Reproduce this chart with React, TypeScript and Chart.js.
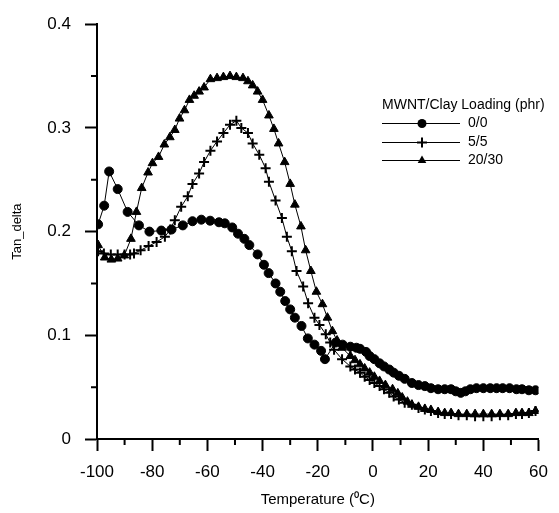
import React, { useEffect, useRef } from "react";
import { Chart, registerables } from "chart.js";

Chart.register(...registerables);

const seriesNames = ["0/0", "5/5", "20/30"];
const legendTitle = "MWNT/Clay Loading (phr)";
const xTitle = "Temperature (\u2070C)";
const yTitle = "Tan_delta";
const xTicks = [-100, -80, -60, -40, -20, 0, 20, 40, 60];
const yTicks = [0, 0.1, 0.2, 0.3, 0.4];
const xMinor = [-90, -70, -50, -30, -10, 10, 30, 50];
const yMinor = [0.05, 0.15, 0.25, 0.35];

const temp00 = [-99.6, -97.4, -95.6, -92.5, -88.9, -84.8, -81.0, -76.7, -73.0, -68.9, -65.4, -62.2, -59.0, -55.8, -53.7, -51.0, -48.9, -46.6, -44.8, -41.8, -39.5, -37.8, -35.3, -33.6, -31.8, -30.0, -28.3, -25.9, -23.6, -21.2, -18.8, -17.4, -13.5, -11.0, -8.2, -6.0, -4.7, -2.5, -1.2, 0.5, 2.4, 4.0, 5.9, 7.5, 9.4, 11.5, 14.1, 16.5, 18.8, 21.0, 23.6, 26.0, 28.3, 30.0, 31.8, 33.5, 35.3, 37.5, 40.0, 42.5, 44.8, 47.0, 49.5, 52.0, 54.0, 56.5, 58.9];
const tan00 = [0.207, 0.225, 0.258, 0.241, 0.219, 0.206, 0.2, 0.201, 0.202, 0.206, 0.21, 0.2115, 0.2105, 0.209, 0.208, 0.204, 0.198, 0.193, 0.187, 0.178, 0.168, 0.16, 0.15, 0.142, 0.133, 0.125, 0.117, 0.109, 0.097, 0.091, 0.085, 0.077, 0.093, 0.091, 0.089, 0.088, 0.087, 0.084, 0.08, 0.077, 0.073, 0.07, 0.067, 0.064, 0.061, 0.058, 0.054, 0.052, 0.051, 0.049, 0.048, 0.048, 0.048, 0.046, 0.0445, 0.046, 0.048, 0.049, 0.049, 0.049, 0.049, 0.049, 0.049, 0.048, 0.048, 0.047, 0.047];

const temp55 = [-99.6, -97.5, -95.0, -92.5, -90.0, -88.0, -86.6, -84.2, -81.3, -78.4, -75.4, -73.5, -71.8, -69.5, -67.1, -65.4, -63.0, -61.2, -58.9, -56.5, -54.2, -51.8, -49.5, -47.7, -45.3, -43.6, -41.2, -38.9, -37.7, -35.3, -33.0, -31.2, -29.4, -27.7, -25.3, -23.5, -21.2, -19.4, -17.1, -15.5, -14.1, -11.2, -8.2, -6.5, -4.7, -3.0, -1.2, 0.5, 2.4, 4.0, 5.9, 7.5, 9.4, 11.5, 14.1, 16.5, 18.8, 21.0, 23.6, 26.0, 28.3, 31.0, 34.0, 37.0, 40.0, 43.0, 46.0, 49.0, 51.8, 54.0, 56.5, 58.9];
const tan55 = [0.181, 0.179, 0.178, 0.178, 0.178, 0.178, 0.179, 0.182, 0.186, 0.19, 0.195, 0.202, 0.211, 0.224, 0.234, 0.246, 0.256, 0.267, 0.278, 0.287, 0.295, 0.303, 0.307, 0.3, 0.295, 0.285, 0.274, 0.261, 0.248, 0.23, 0.213, 0.195, 0.181, 0.162, 0.147, 0.131, 0.117, 0.11, 0.101, 0.093, 0.086, 0.077, 0.07, 0.067, 0.064, 0.06, 0.057, 0.054, 0.051, 0.048, 0.0445, 0.041, 0.038, 0.035, 0.033, 0.03, 0.0285, 0.027, 0.025, 0.024, 0.024, 0.023, 0.023, 0.022, 0.022, 0.022, 0.023, 0.023, 0.024, 0.024, 0.025, 0.027];

const temp2030 = [-99.6, -97.2, -94.8, -92.5, -90.1, -87.7, -85.7, -83.8, -81.5, -79.9, -77.7, -75.6, -73.6, -71.8, -70.1, -68.3, -66.5, -64.8, -63.0, -61.2, -58.9, -56.5, -54.2, -51.8, -49.5, -47.1, -45.3, -43.6, -41.8, -40.0, -37.7, -35.9, -34.2, -32.0, -30.0, -28.3, -26.1, -24.4, -22.5, -20.5, -18.3, -16.5, -14.7, -13.0, -11.2, -8.2, -6.5, -4.7, -3.0, -1.2, 0.5, 2.4, 4.5, 7.1, 9.0, 10.6, 12.5, 14.1, 16.5, 18.8, 21.0, 23.6, 26.0, 28.3, 31.0, 34.0, 37.0, 40.0, 43.0, 46.0, 49.0, 51.8, 54.0, 56.5, 58.9];
const tan2030 = [0.187, 0.175, 0.173, 0.174, 0.177, 0.193, 0.219, 0.242, 0.257, 0.266, 0.272, 0.284, 0.291, 0.298, 0.309, 0.317, 0.327, 0.331, 0.335, 0.339, 0.347, 0.348, 0.349, 0.35, 0.349, 0.348, 0.345, 0.341, 0.335, 0.327, 0.312, 0.299, 0.285, 0.267, 0.246, 0.226, 0.205, 0.182, 0.162, 0.142, 0.13, 0.117, 0.104, 0.095, 0.088, 0.08, 0.076, 0.072, 0.068, 0.064, 0.06, 0.056, 0.052, 0.048, 0.044, 0.04, 0.036, 0.033, 0.031, 0.029, 0.028, 0.026, 0.025, 0.025, 0.024, 0.024, 0.024, 0.024, 0.024, 0.024, 0.024, 0.025, 0.025, 0.025, 0.027];

const FONT = "'Liberation Sans', Arial, sans-serif";

const pts = (xs: number[], ys: number[]) => xs.map((x, i) => ({ x, y: ys[i] }));

const styles = [
  { pointStyle: "circle", radius: 4.5, bw: 1 },
  { pointStyle: "cross", radius: 5, bw: 2 },
  { pointStyle: "triangle", radius: 5, bw: 1 },
];

function drawMarker(ctx: CanvasRenderingContext2D, style: string, r: number, x: number, y: number) {
  ctx.beginPath();
  if (style === "circle") {
    ctx.arc(x, y, r, 0, Math.PI * 2);
    ctx.fill();
  } else if (style === "cross") {
    ctx.lineWidth = 2;
    ctx.moveTo(x - r, y);
    ctx.lineTo(x + r, y);
    ctx.moveTo(x, y - r);
    ctx.lineTo(x, y + r);
    ctx.stroke();
  } else {
    ctx.moveTo(x, y - r);
    ctx.lineTo(x + r * 0.866, y + r * 0.5);
    ctx.lineTo(x - r * 0.866, y + r * 0.5);
    ctx.closePath();
    ctx.fill();
  }
}

const extrasPlugin = {
  id: "extras",
  afterDraw(chart: any) {
    const ctx = chart.ctx as CanvasRenderingContext2D;
    const xs = chart.scales.x;
    const ys = chart.scales.y;
    const area = chart.chartArea;
    ctx.save();
    ctx.strokeStyle = "#000";
    ctx.lineWidth = 2;
    ctx.beginPath();
    xMinor.forEach((v) => {
      const px = xs.getPixelForValue(v);
      ctx.moveTo(px, area.bottom);
      ctx.lineTo(px, area.bottom + 6);
    });
    yMinor.forEach((v) => {
      const py = ys.getPixelForValue(v);
      ctx.moveTo(area.left, py);
      ctx.lineTo(area.left - 6, py);
    });
    ctx.stroke();

    const lx = 382;
    const ly = 105;
    ctx.fillStyle = "#000";
    ctx.font = `14px ${FONT}`;
    ctx.textBaseline = "middle";
    ctx.textAlign = "left";
    ctx.fillText(legendTitle, lx, ly);
    seriesNames.forEach((name, i) => {
      const y = Math.round(ly + 18 + i * 18.7) + 0.5;
      ctx.lineWidth = 1;
      ctx.strokeStyle = "#000";
      ctx.beginPath();
      ctx.moveTo(lx, y);
      ctx.lineTo(lx + 78, y);
      ctx.stroke();
      const s = styles[i];
      drawMarker(ctx, s.pointStyle, s.radius, lx + 40, y);
      ctx.fillText(name, lx + 86, y);
    });
    ctx.restore();
  },
};

export default function App() {
  const ref = useRef<HTMLCanvasElement | null>(null);
  useEffect(() => {
    if (!ref.current) return;
    const datasets = [pts(temp00, tan00), pts(temp55, tan55), pts(temp2030, tan2030)].map((d, i) => ({
      label: seriesNames[i],
      data: d,
      borderColor: "#000",
      backgroundColor: "#000",
      borderWidth: 1,
      pointStyle: styles[i].pointStyle as any,
      pointRadius: styles[i].radius,
      pointBorderWidth: styles[i].bw,
      pointBackgroundColor: "#000",
      pointBorderColor: "#000",
      tension: 0,
      showLine: true,
    }));
    const chart = new Chart(ref.current, {
      type: "scatter",
      data: { datasets },
      plugins: [extrasPlugin],
      options: {
        animation: false,
        responsive: true,
        maintainAspectRatio: false,
        layout: { padding: { top: 22, right: 9, left: 0, bottom: 0 } },
        plugins: { legend: { display: false }, tooltip: { enabled: false } },
        scales: {
          x: {
            type: "linear",
            min: -100,
            max: 60,
            afterFit: (s: any) => { s.height = 74; },
            afterBuildTicks: (s: any) => { s.ticks = xTicks.map((v) => ({ value: v })); },
            ticks: { color: "#000", font: { family: FONT, size: 17 }, padding: 11, maxRotation: 0, autoSkip: false },
            grid: { drawOnChartArea: false, drawTicks: true, tickLength: 12, tickColor: "#000", tickWidth: 2 },
            border: { color: "#000", width: 2 },
            title: { display: true, text: xTitle, color: "#000", font: { family: FONT, size: 15 }, padding: { top: 0, bottom: 4 } },
          },
          y: {
            type: "linear",
            min: 0,
            max: 0.4,
            afterFit: (s: any) => { s.width = 97; },
            afterBuildTicks: (s: any) => { s.ticks = yTicks.map((v) => ({ value: v })); },
            ticks: {
              color: "#000",
              font: { family: FONT, size: 17 },
              padding: 14,
              callback: (v: any) => (Number(v) === 0 ? "0" : Number(v).toFixed(1)),
            },
            grid: { drawOnChartArea: false, drawTicks: true, tickLength: 12, tickColor: "#000", tickWidth: 2 },
            border: { color: "#000", width: 2 },
            title: { display: true, text: yTitle, color: "#000", font: { family: FONT, size: 13 }, padding: { top: 10, bottom: 0 } },
          },
        },
      },
    });
    return () => chart.destroy();
  }, []);
  return (
    <div style={{ position: "absolute", left: 0, top: 0, width: 559, height: 513, background: "#fff" }}>
      <canvas ref={ref} />
    </div>
  );
}
